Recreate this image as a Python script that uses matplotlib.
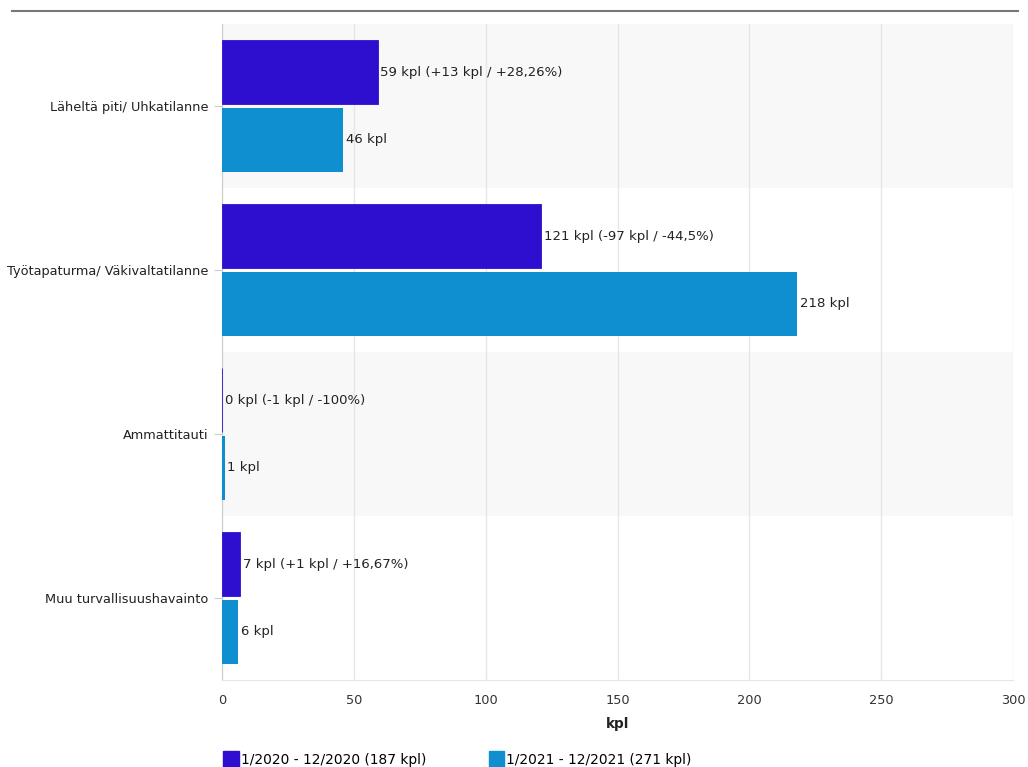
import matplotlib.pyplot as plt
from matplotlib.patches import Rectangle
from matplotlib.lines import Line2D
import numpy as np

categories = ['Läheltä piti/ Uhkatilanne', 'Työtapaturma/ Väkivaltatilanne',
              'Ammattitauti', 'Muu turvallisuushavainto']
values_2020 = [59, 121, 0, 7]
values_2021 = [46, 218, 1, 6]
labels_2020 = ['59 kpl (+13 kpl / +28,26%)', '121 kpl (-97 kpl / -44,5%)',
               '0 kpl (-1 kpl / -100%)', '7 kpl (+1 kpl / +16,67%)']
labels_2021 = ['46 kpl', '218 kpl', '1 kpl', '6 kpl']
series_names = ['1/2020 - 12/2020 (187 kpl)', '1/2021 - 12/2021 (271 kpl)']
colors = ['#2e0fd0', '#0f8fcf']

plt.rcParams['font.family'] = ['DejaVu Sans']
fig = plt.figure(figsize=(10.28, 7.67), dpi=100)
ax = fig.add_axes([222/1028, 87/767, 791/1028, 656/767])

n = len(categories)
y = np.arange(n)
h = 0.39
gap = 0.012

# alternating bands
for i in range(n):
    if i % 2 == 0:
        ax.axhspan(i - 0.5, i + 0.5, color='#f8f8f8', zorder=0, lw=0)

b1 = ax.barh(y - h/2 - gap, values_2020, height=h, color=colors[0], zorder=3,
             edgecolor=colors[0], lw=0.6)
b2 = ax.barh(y + h/2 + gap, values_2021, height=h, color=colors[1], zorder=3)
ax.bar_label(b1, labels=labels_2020, padding=2, fontsize=9.5, color='#222222')
ax.bar_label(b2, labels=labels_2021, padding=2, fontsize=9.5, color='#222222')

ax.set_ylim(n - 0.5, -0.5)
ax.set_xlim(0, 300)
ax.set_yticks(y)
ax.set_yticklabels(categories, fontsize=9.3, color='#222222')
ax.set_xticks(np.arange(0, 301, 50))
ax.tick_params(axis='x', length=0, pad=10, labelsize=9.3, labelcolor='#333333')
ax.tick_params(axis='y', length=6, color='#cccccc', pad=4)
ax.grid(axis='x', color='#e6e6e6', lw=1, zorder=1)
ax.set_axisbelow(True)
for s in ['top', 'right']:
    ax.spines[s].set_visible(False)
ax.spines['left'].set_color('#cccccc')
ax.spines['bottom'].set_color('#e6e6e6')
ax.set_xlabel('kpl', fontsize=9.8, fontweight='bold', color='#222222', labelpad=7)

# top rule
fig.add_artist(Line2D([12/1028, 1018/1028], [1 - 11/767, 1 - 11/767],
                      color='#777777', lw=1.5))

# legend
handles = [Rectangle((0, 0), 1, 1, color=c) for c in colors]
leg = fig.legend(handles, series_names, loc='lower left', ncol=2,
                 bbox_to_anchor=(211/1028, -0.016), frameon=False,
                 fontsize=9.9, handlelength=1.1, handleheight=1.35,
                 handletextpad=0.15, columnspacing=4.6)

fig.savefig('out.png', dpi=100)
